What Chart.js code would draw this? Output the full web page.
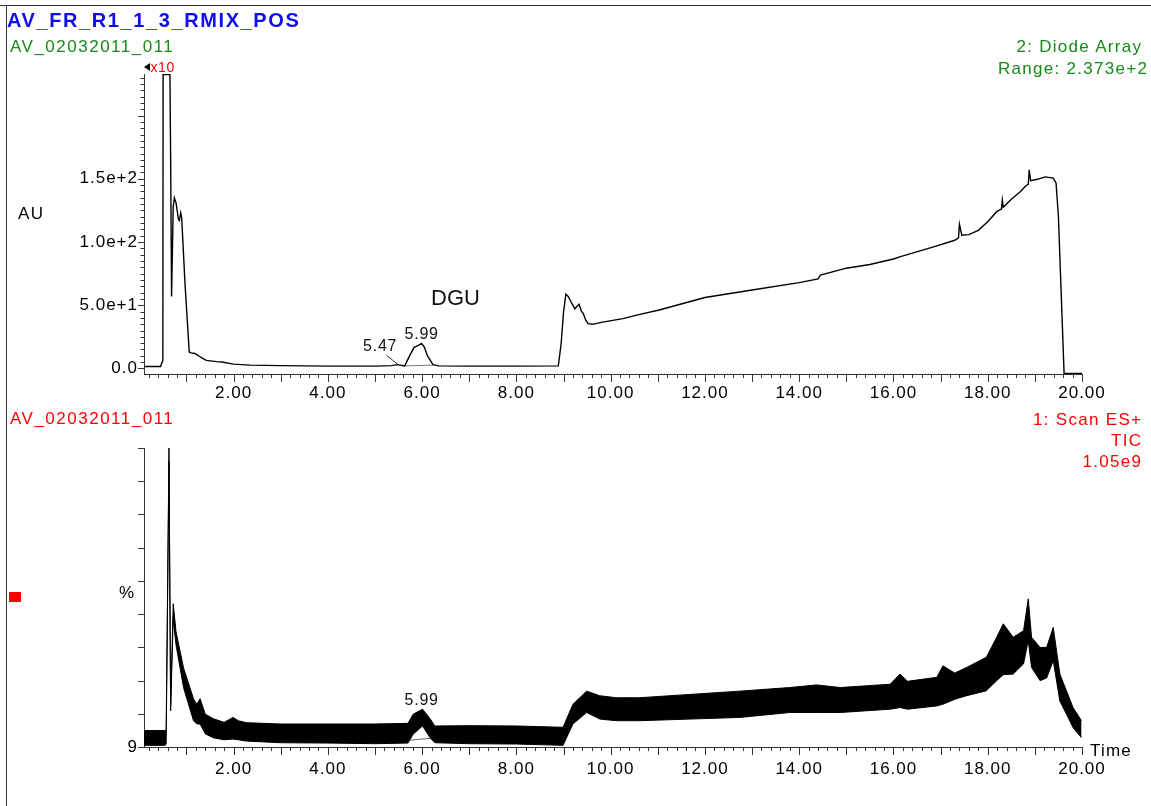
<!DOCTYPE html>
<html><head><meta charset="utf-8">
<script src="https://cdn.jsdelivr.net/npm/chart.js@4"></script>
<style>
html,body{margin:0;padding:0;background:#fff;}
body{width:1151px;height:806px;position:relative;overflow:hidden;font-family:"Liberation Sans",Arial,sans-serif;}
.t{position:absolute;white-space:nowrap;line-height:1;}
canvas{position:absolute;left:0;}
</style></head><body>
<div style="position:absolute;left:0;top:5px;width:1151px;height:1px;background:#333"></div>
<div style="position:absolute;left:6px;top:5px;width:1px;height:801px;background:#333"></div>
<canvas id="c1" width="1151" height="405" style="top:0"></canvas>
<canvas id="c2" width="1151" height="401" style="top:405px"></canvas>

<div class="t" style="left:7px;top:10px;font-size:20px;font-weight:bold;letter-spacing:1.6px;color:#0d0df0">AV_FR_R1_1_3_RMIX_POS</div>
<div class="t" style="left:10px;top:37.5px;font-size:17px;letter-spacing:1.5px;color:#168a16">AV_02032011_011</div>
<div style="position:absolute;left:144px;top:62.5px;width:0;height:0;border-top:4px solid transparent;border-bottom:4px solid transparent;border-right:6px solid #000"></div>
<div class="t" style="left:150.5px;top:60px;font-size:14px;letter-spacing:0.6px;color:#f00">x10</div>
<div class="t" style="right:8.7px;top:38.2px;font-size:17px;letter-spacing:1.3px;color:#168a16">2: Diode Array</div>
<div class="t" style="right:2.7px;top:59.8px;font-size:17px;letter-spacing:1.3px;color:#168a16">Range: 2.373e+2</div>
<div class="t" style="left:18px;top:204.5px;font-size:17px;letter-spacing:1.5px;color:#000">AU</div>
<div class="t" style="left:431px;top:287px;font-size:22px;color:#111">DGU</div>

<div class="t" style="left:10px;top:409.5px;font-size:17px;letter-spacing:1.5px;color:#f00">AV_02032011_011</div>
<div class="t" style="right:8.7px;top:410.5px;font-size:17px;letter-spacing:1.3px;color:#f00">1: Scan ES+</div>
<div class="t" style="right:8.7px;top:432.2px;font-size:17px;letter-spacing:1.3px;color:#f00">TIC</div>
<div class="t" style="right:8.7px;top:453.2px;font-size:17px;letter-spacing:1.3px;color:#f00">1.05e9</div>
<div style="position:absolute;left:9px;top:592px;width:12px;height:10px;background:#f00"></div>
<div class="t" style="left:119px;top:583.5px;font-size:17px;color:#000">%</div>
<div class="t" style="left:1090px;top:741.5px;font-size:17px;letter-spacing:1.2px;color:#000">Time</div>

<script>
// ---------- DATA ----------
const xTickValues = [2,4,6,8,10,12,14,16,18,20];
const xTickLabels = ['2.00','4.00','6.00','8.00','10.00','12.00','14.00','16.00','18.00','20.00'];
const auTickValues = [0,50,100,150];
const auTickLabels = ['0.0','5.0e+1','1.0e+2','1.5e+2'];
const pctTickValues = [9];
const pctTickLabels = ['9'];

// Diode array trace (time in min, AU)
const diodeTime = [0.10,0.45,0.48,0.50,0.505,0.65,0.665,0.685,0.72,0.745,0.78,0.83,0.85,0.88,0.90,0.97,1.06,1.10,1.18,1.30,1.42,1.64,1.75,2.00,2.35,3.00,4.00,5.00,5.35,5.47,5.63,5.74,5.83,5.92,5.99,6.05,6.11,6.23,6.35,7.00,8.00,8.89,8.95,9.00,9.05,9.10,9.18,9.24,9.33,9.38,9.42,9.47,9.52,9.62,9.80,10.26,10.62,11.03,12.00,13.00,14.00,14.40,14.45,15.00,15.50,16.00,16.15,16.85,17.30,17.38,17.40,17.45,17.60,17.80,18.00,18.19,18.29,18.31,18.33,18.50,18.69,18.81,18.86,18.88,18.91,19.05,19.22,19.39,19.45,19.50,19.62,20.00];
const diodeAU   = [1.5,1.5,4.5,6,232.5,232.5,167,57,128,135,131,118,117,123,119,67,13,12.3,11.8,8.9,6.4,5.4,5.1,3.4,2.6,2.2,1.8,1.8,2.2,3,2,10.3,16.7,18.2,19.7,16.7,10.3,3,2,1.8,1.8,2,19.7,44.3,58.7,57,51.2,47.2,50.8,45.3,43.3,38.4,35.4,34.9,36.4,39.4,42.8,46.2,56.1,62,67.9,70.8,73.8,79.3,82.2,86.6,88.4,96.2,101.4,103.3,114.1,105.3,105.8,109.2,116.1,124,126,133.3,127.5,133.8,139.7,144.5,145.6,157.1,148.6,149.6,151.5,150.6,146.6,120,-4,-4];
const diodeBaseTime = [5.63,6.23];
const diodeBaseAU   = [2.0,2.6];
const diodePeakTimes = [5.47,5.99];
const diodePeakAU    = [3,19.7];

// TIC trace, noise band lower / upper envelope (%)
const ticTime  = [0.10,0.55,0.57,0.63,0.665,0.72,0.78,0.94,1.15,1.22,1.29,1.40,1.57,1.80,1.99,2.10,2.27,3.00,4.00,5.00,5.70,5.81,6.01,6.17,6.27,7.00,8.00,8.99,9.20,9.49,9.77,10.12,10.62,11.68,12.74,13.80,14.37,14.87,15.93,16.14,16.30,16.92,17.05,17.30,17.55,17.97,18.19,18.33,18.54,18.76,18.86,18.93,19.11,19.25,19.39,19.53,19.67,19.81,19.99];
const ticLower = [9.5,9.5,10,96,20,48,40,27,17,16,16,13,11.8,11.2,11.4,11.2,10.8,10.3,10.2,10,10.2,12.9,15.4,11.8,10.3,10,9.9,9.5,16,19.5,17.5,17,17,17.5,18,19.5,19.5,19.5,20.5,21,20.5,21.5,22,23.5,24.6,26.1,29.2,31,31.2,34.3,41.4,33.2,29.2,30,35.3,23,19,14.9,11.8];
const ticUpper = [14,14,14,100,22,52.6,44,33,23.7,22,23.7,19,17.6,16.5,18,17,16.4,16,16,16,16.2,19,20.5,17.6,15.4,15.5,15.4,15,22,26,24.6,24,24,25,26,27.1,27.9,27.1,28.1,31.2,29,30.2,33.7,31.5,33.2,36.3,42.4,46.5,42.4,44.4,54.1,42.4,39.3,39.3,45.4,31.2,26.1,21,17];
const ticBaseTime = [5.70,6.22];
const ticBasePct  = [11.0,11.7];
const ticPeakTimes = [5.99];
const ticPeakPct   = [20.5];

// ---------- HELPERS ----------
const FONT = '"Liberation Sans", Arial, sans-serif';
const pts = (xs, ys) => xs.map((x, i) => ({x, y: ys[i]}));

function makePlugin(yTickMarks, peakTimes, peakVals, leaderFlags) {
  return {
    id: 'msTicks',
    beforeDraw(chart) { chart.ctx.letterSpacing = '1px'; },
    afterDraw(chart) {
      const ctx = chart.ctx, xs = chart.scales.x, ys = chart.scales.y;
      ctx.save();
      ctx.strokeStyle = '#333'; ctx.lineWidth = 1;
      ctx.beginPath();
      for (let k = 1; k <= 100; k++) {
        const t = k / 5;
        if (t < xs.min) continue;
        const px = Math.round(xs.getPixelForValue(t)) + 0.5;
        const len = (k % 5 === 0) ? 8 : 4;
        ctx.moveTo(px, xs.top); ctx.lineTo(px, xs.top + len);
      }
      yTickMarks(ys).forEach(([v, len]) => {
        const py = Math.round(ys.getPixelForValue(v)) + 0.5;
        ctx.moveTo(ys.right, py); ctx.lineTo(ys.right - len, py);
      });
      ctx.stroke();
      // peak labels
      ctx.font = '16px ' + FONT;
      ctx.fillStyle = '#111';
      ctx.textAlign = 'center'; ctx.textBaseline = 'middle';
      ctx.letterSpacing = '0.8px';
      peakTimes.forEach((t, i) => {
        const px = xs.getPixelForValue(t), py = ys.getPixelForValue(peakVals[i]);
        if (leaderFlags[i]) {
          ctx.fillText(t.toFixed(2), px - 17, py - 18);
          ctx.beginPath(); ctx.moveTo(px - 10.5, py - 9.3); ctx.lineTo(px + 1, py); ctx.stroke();
        } else {
          ctx.fillText(t.toFixed(2), px, py - 9);
        }
      });
      ctx.restore();
    }
  };
}

function xScale(pad) {
  return {
    type: 'linear', min: 0.1, max: 20,
    grid: {display: false, drawTicks: false},
    border: {display: true, color: '#333', width: 1},
    afterBuildTicks: s => { s.ticks = xTickValues.map(v => ({value: v})); },
    ticks: {padding: pad, color: '#000', font: {family: FONT, size: 17}, maxRotation: 0, autoSkip: false,
            callback: (v, i) => xTickLabels[i]},
    afterFit: s => { s.height = s.chart.height === 405 ? 31 : 59; }
  };
}

// ---------- TOP CHART ----------
new Chart(document.getElementById('c1'), {
  type: 'line',
  data: {datasets: [
    {data: pts(diodeTime, diodeAU), borderColor: '#000', borderWidth: 1.4, pointRadius: 0, fill: false},
    {data: pts(diodeBaseTime, diodeBaseAU), borderColor: '#777', borderWidth: 1, pointRadius: 0, fill: false}
  ]},
  options: {
    responsive: false, animation: false, events: [],
    layout: {padding: {top: 74, right: 69, left: 0, bottom: 0}},
    plugins: {legend: {display: false}, tooltip: {enabled: false}},
    scales: {
      x: xScale(9),
      y: {
        type: 'linear', min: -4.4, max: 232.9,
        grid: {display: false, drawTicks: false},
        border: {display: true, color: '#333', width: 1},
        afterBuildTicks: s => { s.ticks = auTickValues.map(v => ({value: v})); },
        ticks: {padding: 6, color: '#000', font: {family: FONT, size: 17}, autoSkip: false,
                callback: (v, i) => auTickLabels[i]},
        afterFit: s => { s.width = 144; }
      }
    }
  },
  plugins: [makePlugin(ys => {
    const out = [];
    for (let v = 0; v <= ys.max; v += 5) out.push([v, v % 50 === 0 ? 6 : 3.5]);
    return out;
  }, diodePeakTimes, diodePeakAU, [true, false])]
});

// ---------- BOTTOM CHART ----------
new Chart(document.getElementById('c2'), {
  type: 'line',
  data: {datasets: [
    {data: pts(ticTime, ticLower), borderColor: '#000', borderWidth: 1, pointRadius: 0, fill: false},
    {data: pts(ticTime, ticUpper), borderColor: '#000', borderWidth: 1, pointRadius: 0, fill: '-1', backgroundColor: '#000'},
    {data: pts(ticBaseTime, ticBasePct), borderColor: '#666', borderWidth: 1, pointRadius: 0, fill: false}
  ]},
  options: {
    responsive: false, animation: false, events: [],
    layout: {padding: {top: 43, right: 69, left: 0, bottom: 0}},
    plugins: {legend: {display: false}, tooltip: {enabled: false}},
    scales: {
      x: xScale(12),
      y: {
        type: 'linear', min: 9, max: 100,
        grid: {display: false, drawTicks: false},
        border: {display: true, color: '#333', width: 1},
        afterBuildTicks: s => { s.ticks = pctTickValues.map(v => ({value: v})); },
        ticks: {padding: 6, color: '#000', font: {family: FONT, size: 17}, autoSkip: false,
                callback: (v, i) => pctTickLabels[i]},
        afterFit: s => { s.width = 144; }
      }
    }
  },
  plugins: [makePlugin(ys => {
    const out = [];
    for (let k = 0; k <= 9; k++) out.push([ys.min + k * (ys.max - ys.min) / 9, 6]);
    return out;
  }, ticPeakTimes, ticPeakPct, [false])]
});
</script>
</body></html>
